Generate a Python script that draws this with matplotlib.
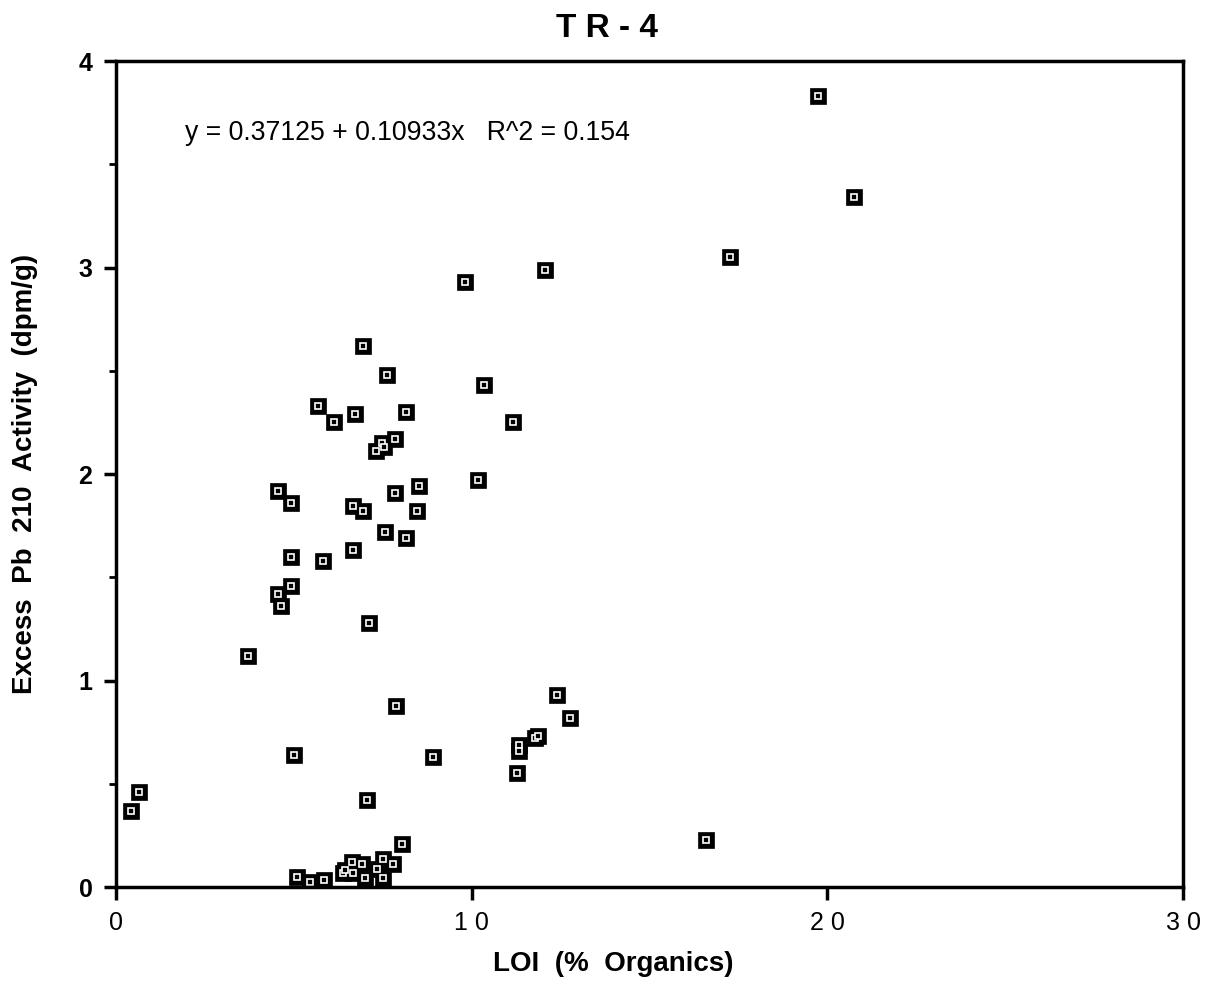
import matplotlib
matplotlib.use("Agg")
import matplotlib.pyplot as plt
from matplotlib.ticker import MultipleLocator

plt.rcParams['font.family'] = ['Liberation Sans', 'DejaVu Sans']

# LOI (% organics) vs excess Pb-210 activity (dpm/g)
loi = [0.42, 0.65, 3.71, 4.55, 4.92, 4.55, 4.64, 4.92, 4.92, 5.0,
       5.68, 5.82, 6.13, 6.72, 6.66, 6.66, 6.94, 6.94, 7.11, 7.06,
       7.31, 7.48, 7.53, 7.62, 7.56, 7.84, 7.84, 7.87, 8.15, 8.15,
       8.46, 8.52, 8.03, 8.91, 9.81, 10.18, 10.35, 11.16, 11.27, 11.33,
       11.33, 11.78, 11.86, 12.06, 12.4, 12.76, 16.6, 17.26, 19.74, 20.75,
       5.09, 5.45, 5.85, 6.38, 6.44, 6.63, 6.91, 6.66, 7.0, 7.33,
       7.5, 7.8, 7.5]
activity = [0.37, 0.46, 1.12, 1.92, 1.86, 1.42, 1.36, 1.46, 1.60, 0.64,
            2.33, 1.58, 2.25, 2.29, 1.845, 1.63, 2.62, 1.82, 1.28, 0.42,
            2.11, 2.15, 2.13, 2.48, 1.72, 2.17, 1.91, 0.876, 2.30, 1.69,
            1.82, 1.94, 0.21, 0.63, 2.93, 1.97, 2.43, 2.25, 0.55, 0.69,
            0.66, 0.72, 0.73, 2.99, 0.93, 0.82, 0.23, 3.05, 3.83, 3.34,
            0.048, 0.025, 0.034, 0.07, 0.082, 0.12, 0.11, 0.068, 0.045, 0.087,
            0.135, 0.11, 0.045]

x_ticks = [0, 10, 20, 30]
x_tick_labels = ["0", "1 0", "2 0", "3 0"]
y_ticks = [0, 1, 2, 3, 4]

fig = plt.figure(figsize=(12.06, 9.81), dpi=100)
ax = fig.add_axes([0.0962, 0.0958, 0.8848, 0.842])

# black square with a small hollow square inside
ax.plot(loi, activity, linestyle='none', marker='s', markersize=11,
        markerfacecolor='black', markeredgecolor='black', markeredgewidth=0.5)
ax.plot(loi, activity, linestyle='none', marker='s', markersize=4,
        markerfacecolor='black', markeredgecolor='white', markeredgewidth=1.2)

ax.set_xlim(0, 30)
ax.set_ylim(0, 4)
ax.set_xticks(x_ticks)
ax.set_xticklabels(x_tick_labels, fontsize=18)
ax.set_yticks(y_ticks)
ax.set_yticklabels([str(v) for v in y_ticks], fontsize=18, fontweight='bold')
ax.yaxis.set_minor_locator(MultipleLocator(0.5))

for s in ax.spines.values():
    s.set_linewidth(2.5)
ax.tick_params(axis='both', which='major', direction='out', length=9, width=2.5, pad=8)
ax.tick_params(axis='y', which='minor', direction='out', length=5, width=2.0)

ax.set_xlabel("LOI  (%  Organics)", fontsize=20, fontweight='bold')
ax.set_ylabel("Excess  Pb  210  Activity  (dpm/g)", fontsize=20, fontweight='bold')
ax.xaxis.set_label_coords(0.466, -0.077)
ax.yaxis.set_label_coords(-0.073, 0.5)

fig.text(0.503, 0.971, "T R - 4", ha='center', va='center', fontsize=24, fontweight='bold')

ax.text(0.065, 0.913, "y = 0.37125 + 0.10933x   R^2 = 0.154", transform=ax.transAxes,
        fontsize=19.2, ha='left', va='center')

fig.savefig("out.png", dpi=100)
plt.close(fig)
